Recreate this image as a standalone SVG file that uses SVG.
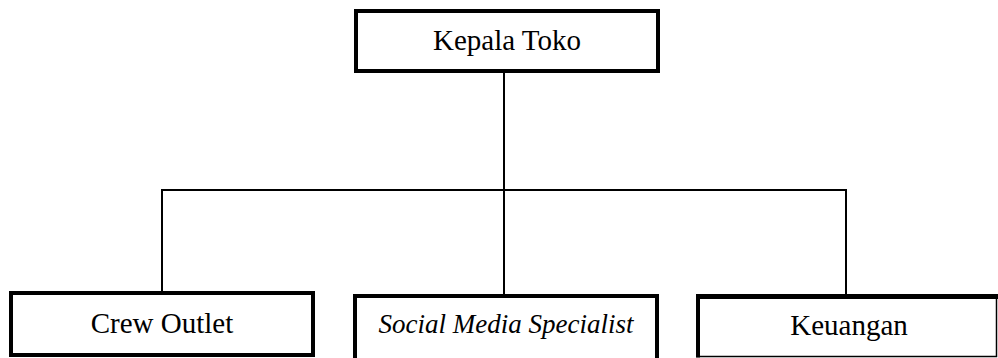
<svg xmlns="http://www.w3.org/2000/svg" width="998" height="358" viewBox="0 0 998 358">
<style>
.box{fill:#fff;stroke:#000;stroke-width:4}
.t{font-family:"Liberation Serif","Times New Roman",serif;font-size:29px;fill:#000;text-anchor:middle}
.it{font-style:italic;font-size:27px}
.c{stroke:#000;stroke-width:2;fill:none}
</style>
<rect width="998" height="358" fill="#fff"/>
<g id="connectors">
<line class="c" x1="504" y1="73" x2="504" y2="295"/>
<line class="c" x1="161" y1="190" x2="847" y2="190"/>
<line class="c" x1="162" y1="189" x2="162" y2="292"/>
<line class="c" x1="846" y1="189" x2="846" y2="295"/>
</g>
<g id="kepala-toko">
<rect class="box" x="356" y="11" width="302" height="60"/>
<text class="t" x="507" y="50">Kepala Toko</text>
</g>
<g id="crew-outlet">
<rect class="box" x="11" y="293" width="302" height="62"/>
<text class="t" x="162" y="333">Crew Outlet</text>
</g>
<g id="social-media-specialist">
<rect class="box" x="355" y="296" width="302" height="64"/>
<text class="t it" x="506" y="333">Social Media Specialist</text>
</g>
<g id="keuangan">
<rect x="697" y="296" width="299.5" height="60.5" fill="#fff" stroke="#000" stroke-width="1.5"/>
<line x1="698" y1="294" x2="698" y2="357.5" stroke="#000" stroke-width="4"/>
<line x1="696" y1="296.5" x2="998" y2="296.5" stroke="#000" stroke-width="5"/>
<text class="t" x="849" y="335">Keuangan</text>
</g>
</svg>
